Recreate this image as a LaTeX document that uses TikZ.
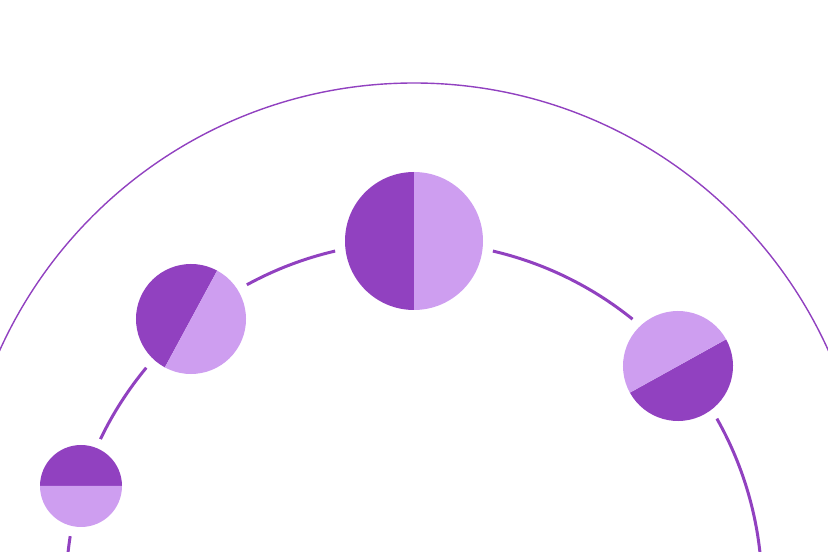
\documentclass[tikz,border=0pt]{standalone}
\definecolor{dk}{HTML}{9141C0}
\definecolor{lt}{HTML}{CE9EF0}
\begin{document}
\begin{tikzpicture}[x=1pt,y=1pt,
  arcline/.style={draw=dk,line width=3pt},
  outerline/.style={draw=dk,line width=1.4pt}]
\useasboundingbox (0,0) rectangle (828,552);
\clip (0,0) rectangle (828,552);
\coordinate (O) at (414,14.5);
\coordinate (A) at (414,-38);
\draw[outerline] (O) circle[radius=454.5];
\foreach \s/\e in {185/171.1, 154.3/140.3, 118.7/103.1, 76.9/51.1, 29.5/-10}{
  \draw[arcline] (A) ++(\s:348) arc[start angle=\s, end angle=\e, radius=348];
}
% half-disk circles: name/x/y/r/split angle
\foreach \n/\x/\y/\r/\a in {c0/81/66/41/0, c1/191/233/55/61.6, c2/414/311/69/90, c3/678/186/55/209}{
  \coordinate (\n) at (\x,\y);
  \fill[dk] (\n) ++(\a:\r) arc[start angle=\a, delta angle=180, radius=\r] -- cycle;
  \fill[lt] (\n) ++(\a+180:\r) arc[start angle=\a+180, delta angle=180, radius=\r] -- cycle;
}
\end{tikzpicture}
\end{document}
